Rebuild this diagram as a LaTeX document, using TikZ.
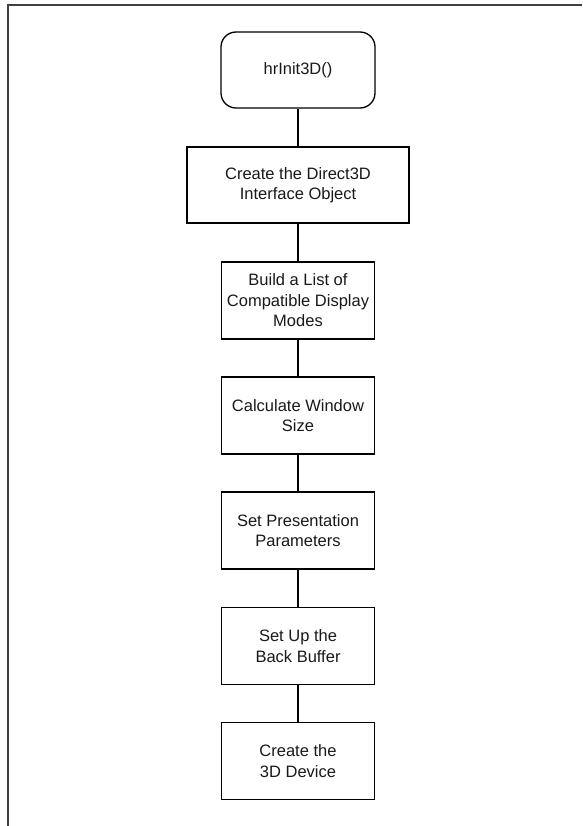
\documentclass[tikz,border=0pt]{standalone}
\usepackage{fontspec}
\setmainfont{Liberation Sans}
\begin{document}
\begin{tikzpicture}[x=1pt,y=1pt,
  stepbox/.style={draw=black,line width=1.3pt,align=center,font=\fontsize{16.5}{20.5}\selectfont,
    minimum width=153pt,minimum height=77pt,inner sep=0pt,text=black!90},
  startbox/.style={stepbox,rounded corners=15pt,minimum height=76pt,minimum width=154pt},
  link/.style={draw=black,line width=1.3pt}]
\useasboundingbox (0,0) rectangle (582,-826);
\draw[line width=2pt,draw=black!75] (8,-826) -- (8,-5) -- (582,-5);
\node[startbox] (s) at (298,-70) {hrInit3D()};
\node[stepbox,minimum width=222pt,minimum height=76pt] (a) at (298,-185) {Create the Direct3D\\Interface Object};
\node[stepbox] (b) at (298,-300.5) {Build a List of\\Compatible Display\\Modes};
\node[stepbox] (c) at (298,-415.5) {Calculate Window\\Size};
\node[stepbox] (d) at (298,-530.5) {Set Presentation\\Parameters};
\node[stepbox] (e) at (298,-646) {Set Up the\\Back Buffer};
\node[stepbox] (f) at (298,-761) {Create the\\3D Device};
\draw[link] (s) -- (a);
\draw[link] (a) -- (b);
\draw[link] (b) -- (c);
\draw[link] (c) -- (d);
\draw[link] (d) -- (e);
\draw[link] (e) -- (f);
\end{tikzpicture}
\end{document}
